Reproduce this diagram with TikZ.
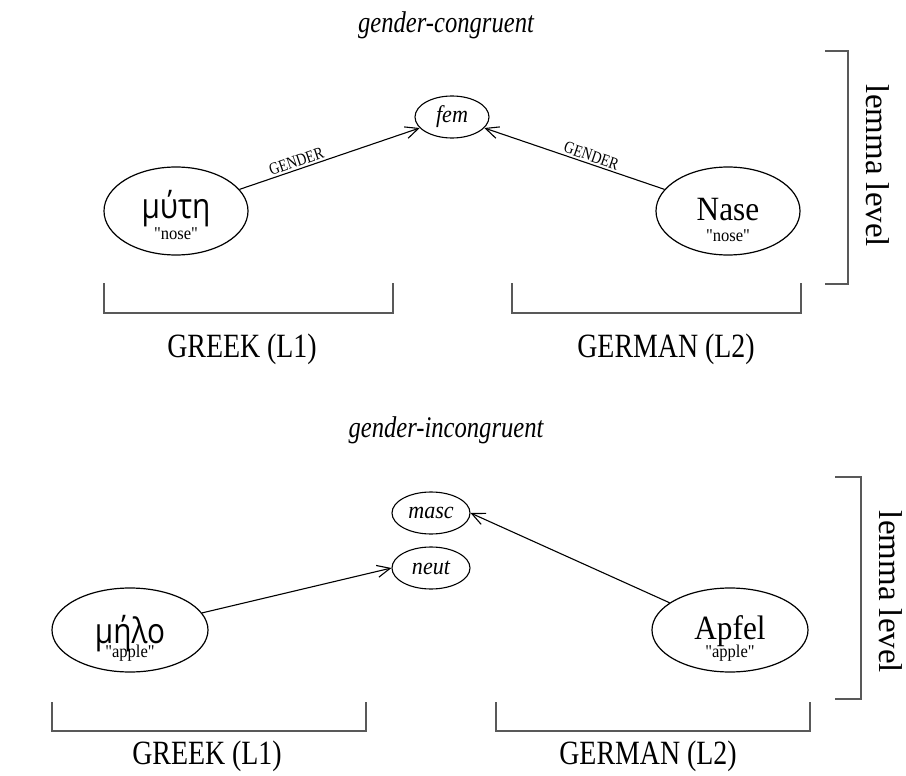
\documentclass[tikz,border=0pt]{standalone}
\usepackage{fontspec}
\setmainfont{Liberation Serif}
\newfontfamily\cond[FakeStretch=0.82]{Liberation Serif}
\newfontfamily\slim[FakeStretch=0.92]{Liberation Serif}
\newfontfamily\greekf[FakeStretch=0.85]{Open Sans}
\usetikzlibrary{shapes.geometric,arrows.meta}
\tikzset{
  bigell/.style={draw, ellipse, line width=1.2pt, inner sep=0pt, minimum width=144pt, minimum height=88pt},
  smallell/.style={draw, ellipse, line width=1.1pt, inner sep=0pt, minimum width=74pt, minimum height=42pt,
    font=\slim\itshape\fontsize{24}{24}\selectfont},
  genarrow/.style={line width=1.1pt, -{Straight Barb[length=13pt,width=12pt,line width=1.1pt]}},
  bracketline/.style={draw=black!65, line width=1.5pt},
  titlelabel/.style={font=\cond\itshape\fontsize{30}{30}\selectfont, anchor=base},
  langlabel/.style={font=\cond\fontsize{34}{34}\selectfont, anchor=base},
  lemmalabel/.style={font=\fontsize{33}{33}\selectfont, rotate=-90},
  edgelabel/.style={font=\cond\fontsize{17}{17}\selectfont, sloped, above, inner sep=2pt},
  wordgreek/.style={font=\greekf\fontsize{35}{35}\selectfont, anchor=base, inner sep=0pt},
  wordgerman/.style={font=\slim\fontsize{34}{34}\selectfont, anchor=base, inner sep=0pt},
  gloss/.style={font=\slim\fontsize{18}{18}\selectfont, anchor=base, inner sep=0pt}
}
\begin{document}
\begin{tikzpicture}[x=1pt,y=-1pt]
\useasboundingbox (0,0) rectangle (906,776);
% ---------- top panel ----------
\node[titlelabel] (t1) at (446,33) {gender-congruent};
\node[smallell] (fem) at (452,117) {fem};
\node[bigell] (gr1) at (176,211) {};
\node[wordgreek] (gr1w) at (176,218) {μύτη};
\node[gloss] (gr1g) at (176,239) {"nose"};
\node[bigell] (de1) at (728,211) {};
\node[wordgerman] (de1w) at (728,220) {Nase};
\node[gloss] (de1g) at (728,241) {"nose"};
\draw[genarrow] (gr1) -- node[edgelabel, pos=0.33] {GENDER} (fem);
\draw[genarrow] (de1) -- node[edgelabel, pos=0.42] {GENDER} (fem);
\coordinate (lb1a) at (825,51);
\coordinate (lb1b) at (825,284);
\draw[bracketline] (lb1a) -- (848,51) -- (848,284) -- (lb1b);
\node[lemmalabel] (lem1) at (878,166) {lemma level};
\coordinate (g1a) at (104,283);
\coordinate (g1b) at (393,283);
\draw[bracketline] (g1a) -- (104,313) -- (393,313) -- (g1b);
\coordinate (d1a) at (512,283);
\coordinate (d1b) at (801,283);
\draw[bracketline] (d1a) -- (512,313) -- (801,313) -- (d1b);
\node[langlabel] (gl1) at (242,357) {GREEK (L1)};
\node[langlabel] (dl1) at (666,357) {GERMAN (L2)};
% ---------- bottom panel ----------
\node[titlelabel] (t2) at (446,437) {gender-incongruent};
\node[smallell, minimum width=78pt] (masc) at (431,513) {masc};
\node[smallell, minimum width=78pt] (neut) at (431,568) {neut};
\node[bigell, minimum width=156pt, minimum height=84pt] (gr2) at (130,630) {};
\node[wordgreek] (gr2w) at (130,643) {μήλο};
\node[gloss] (gr2g) at (130,657) {"apple"};
\node[bigell, minimum width=156pt, minimum height=84pt] (de2) at (730,630) {};
\node[wordgerman] (de2w) at (730,639) {Apfel};
\node[gloss] (de2g) at (730,657) {"apple"};
\draw[genarrow] (gr2) -- (neut.west);
\draw[genarrow] (de2) -- (masc.east);
\coordinate (lb2a) at (835,477);
\coordinate (lb2b) at (835,699);
\draw[bracketline] (lb2a) -- (861,477) -- (861,699) -- (lb2b);
\node[lemmalabel] (lem2) at (891,592) {lemma level};
\coordinate (g2a) at (52,702);
\coordinate (g2b) at (366,702);
\draw[bracketline] (g2a) -- (52,731) -- (366,731) -- (g2b);
\coordinate (d2a) at (496,702);
\coordinate (d2b) at (810,702);
\draw[bracketline] (d2a) -- (496,731) -- (810,731) -- (d2b);
\node[langlabel] (gl2) at (207,764) {GREEK (L1)};
\node[langlabel] (dl2) at (648,764) {GERMAN (L2)};
\end{tikzpicture}
\end{document}
